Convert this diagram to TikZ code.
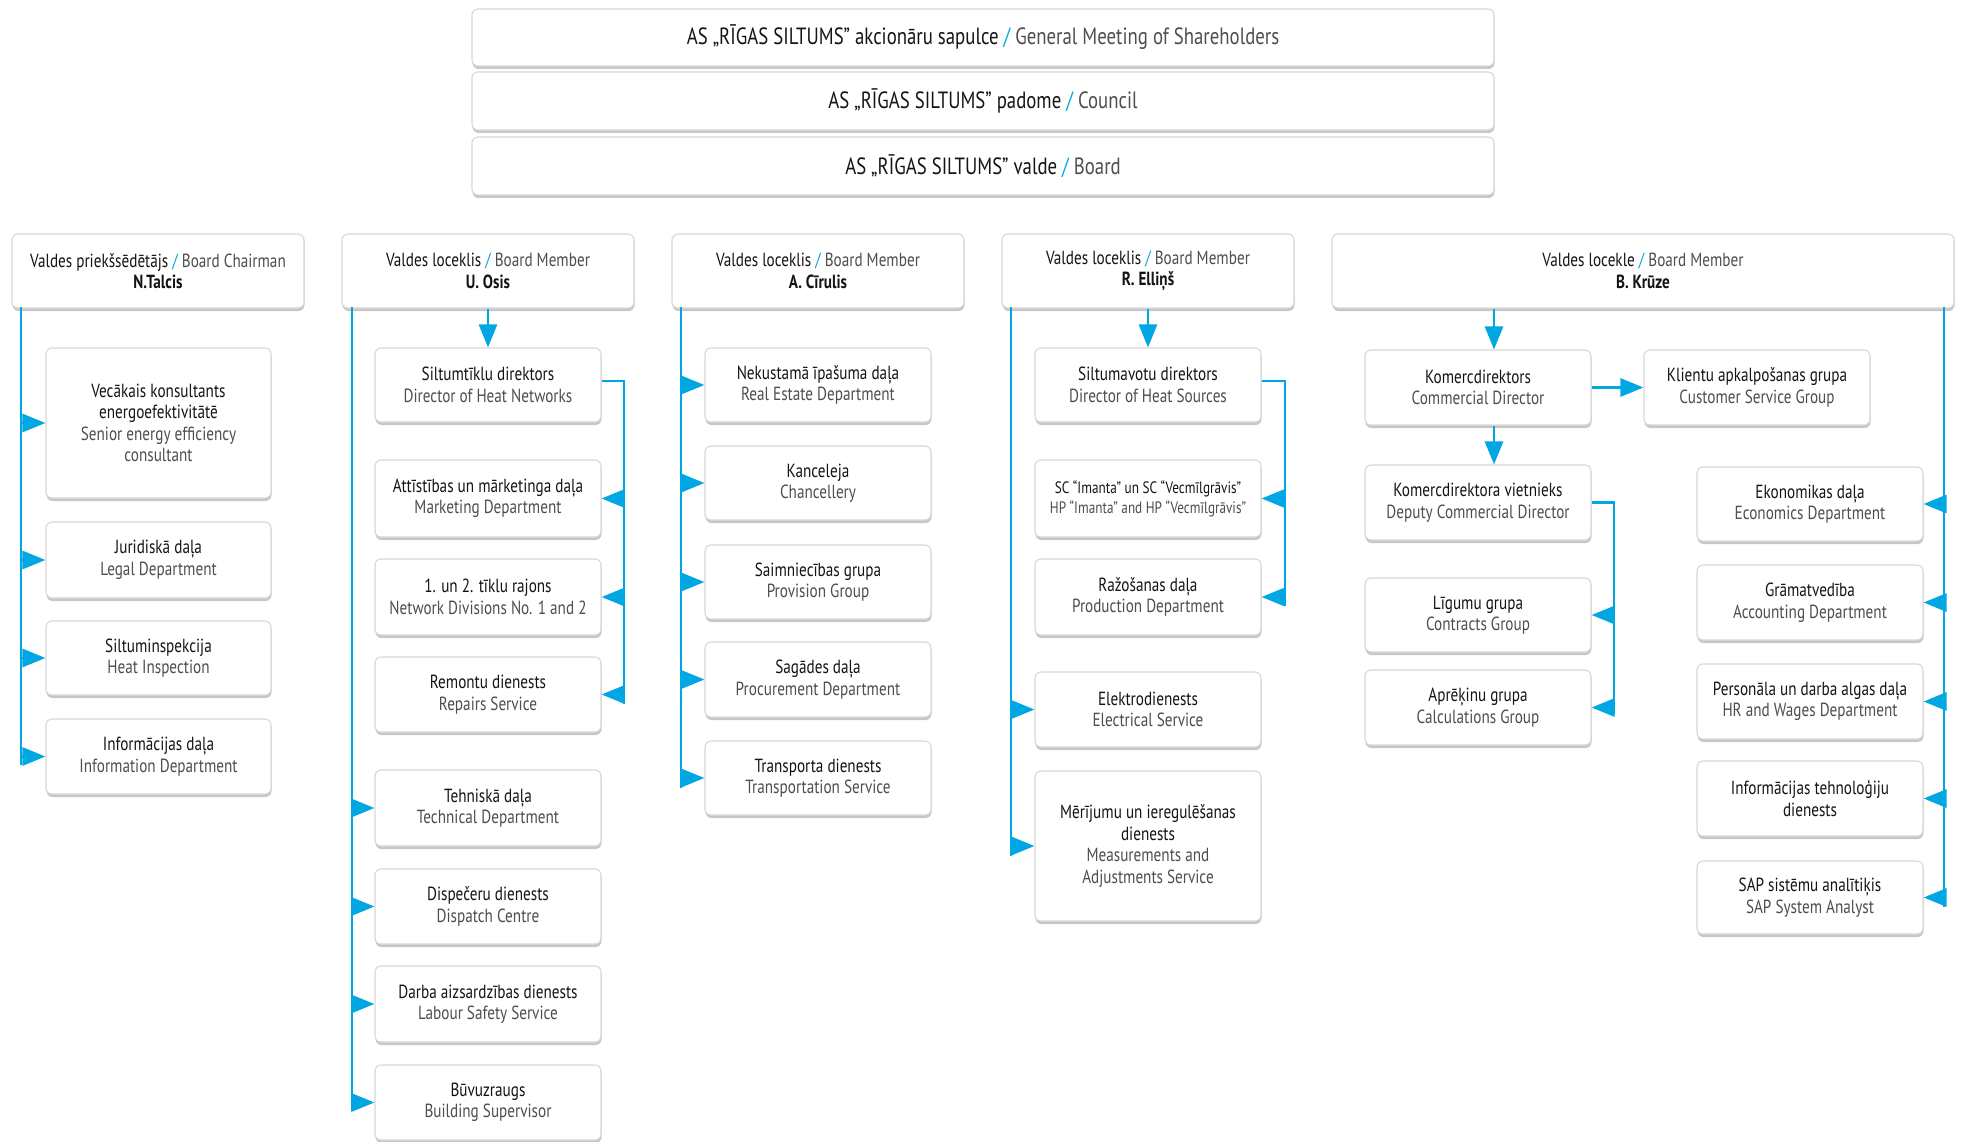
\documentclass[tikz,border=0pt]{standalone}
\usepackage{fontspec}
\setmainfont[FakeStretch=0.8]{PT Sans}
\usetikzlibrary{arrows.meta,shadows}
\definecolor{cy}{RGB}{0,167,226}
\definecolor{lvc}{RGB}{20,20,20}
\definecolor{enc}{RGB}{78,78,78}
\definecolor{bord}{RGB}{216,216,216}
\newcommand{\slsh}{\textcolor{cy}{/}}
\newcommand{\en}[1]{\textcolor{enc}{#1}}
\tikzset{
  box/.style={draw=bord, line width=1.1pt, fill=white, rounded corners=6pt,
    align=center, inner sep=0pt, text=lvc, font=\fontsize{19}{21.5}\selectfont,
    drop shadow={shadow xshift=0.5pt, shadow yshift=-3pt, opacity=0.22, fill=black}},
  topbox/.style={box, font=\fontsize{23.5}{27}\selectfont},
  smallbox/.style={box, font=\fontsize{16.5}{20}\selectfont},
  link/.style={draw=cy, line width=2.8pt},
  arr/.style={link, -{Triangle[length=23pt,width=18pt]}},
}
\newcommand{\nbx}[7][box]{\node[#1, minimum width={(#5-#3)*1pt}, minimum height={(#6-#4)*1pt}] (#2) at ({(#3+#5)/2},{(#4+#6)/2}) {#7};}
\begin{document}
\begin{tikzpicture}[x=1pt,y=-1pt]
\useasboundingbox[fill=white] (0,0) rectangle (1961,1142);
% top
\nbx[topbox]{t1}{472}{9}{1494}{66}{AS „RĪGAS SILTUMS” akcionāru sapulce \slsh{} \en{General Meeting of Shareholders}}
\nbx[topbox]{t2}{472}{72}{1494}{130}{AS „RĪGAS SILTUMS” padome \slsh{} \en{Council}}
\nbx[topbox]{t3}{472}{137}{1494}{195}{AS „RĪGAS SILTUMS” valde \slsh{} \en{Board}}
% headers
\nbx{h1}{12}{234}{304}{308}{Valdes priekšsēdētājs \slsh{} \en{Board Chairman}\\\textbf{N.Talcis}}
\nbx{h2}{342}{234}{634}{308}{Valdes loceklis \slsh{} \en{Board Member}\\\textbf{U. Osis}}
\nbx{h3}{672}{234}{964}{308}{Valdes loceklis \slsh{} \en{Board Member}\\\textbf{A. Cīrulis}}
\nbx{h4}{1002}{234}{1294}{308}{Valdes loceklis \slsh{} \en{Board Member}\\\textbf{R. Elliņš}}
\nbx{h5}{1332}{234}{1954}{308}{Valdes locekle \slsh{} \en{Board Member}\\\textbf{B. Krūze}}
% chairman column
\nbx{vk}{46}{348}{271}{498}{Vecākais konsultants\\energoefektivitātē\\\en{Senior energy efficiency}\\\en{consultant}}
\nbx{jd}{46}{522}{271}{598}{Juridiskā daļa\\\en{Legal Department}}
\nbx{si}{46}{621}{271}{695}{Siltuminspekcija\\\en{Heat Inspection}}
\nbx{id}{46}{719}{271}{794}{Informācijas daļa\\\en{Information Department}}
\coordinate (s1t) at (21,307); \coordinate (s1b) at (21,765);
\draw[link] (s1t) -- (s1b);
\foreach \n in {vk,jd,si,id} \draw[arr] (\n.west -| s1t) -- (\n.west);
% Osis column
\nbx{sd}{375}{348}{601}{422}{Siltumtīklu direktors\\\en{Director of Heat Networks}}
\nbx{ad}{375}{460}{601}{537}{Attīstības un mārketinga daļa\\\en{Marketing Department}}
\nbx{nd}{375}{559}{601}{635}{1. un 2. tīklu rajons\\\en{Network Divisions No. 1 and 2}}
\nbx{rs}{375}{657}{601}{732}{Remontu dienests\\\en{Repairs Service}}
\nbx{td}{375}{770}{601}{846}{Tehniskā daļa\\\en{Technical Department}}
\nbx{dd}{375}{869}{601}{944}{Dispečeru dienests\\\en{Dispatch Centre}}
\nbx{ds}{375}{966}{601}{1042}{Darba aizsardzības dienests\\\en{Labour Safety Service}}
\nbx{bs}{375}{1065}{601}{1140}{Būvuzraugs\\\en{Building Supervisor}}
\draw[arr] (h2.south) -- (sd.north);
\coordinate (s2t) at (352,307); \coordinate (s2b) at (352,1111);
\draw[link] (s2t) -- (s2b);
\foreach \n in {td,dd,ds,bs} \draw[arr] (\n.west -| s2t) -- (\n.west);
\coordinate (b2b) at (624,704);
\draw[link] ([yshift=4pt]sd.east) -| (b2b);
\foreach \n in {ad,nd,rs} \draw[arr] (\n.east -| b2b) -- (\n.east);
% Cirulis column
\nbx{ne}{705}{348}{931}{422}{Nekustamā īpašuma daļa\\\en{Real Estate Department}}
\nbx{ka}{705}{446}{931}{520}{Kanceleja\\\en{Chancellery}}
\nbx{sg}{705}{545}{931}{619}{Saimniecības grupa\\\en{Provision Group}}
\nbx{sa}{705}{642}{931}{717}{Sagādes daļa\\\en{Procurement Department}}
\nbx{tr}{705}{741}{931}{815}{Transporta dienests\\\en{Transportation Service}}
\coordinate (s3t) at (681,307); \coordinate (s3b) at (681,788);
\draw[link] (s3t) -- (s3b);
\foreach \n in {ne,ka,sg,sa,tr} \draw[arr] (\n.west -| s3t) -- (\n.west);
% Ellins column
\nbx{sv}{1035}{348}{1261}{422}{Siltumavotu direktors\\\en{Director of Heat Sources}}
\nbx[smallbox]{sc}{1035}{460}{1261}{537}{SC “Imanta” un SC “Vecmīlgrāvis”\\\en{HP “Imanta” and HP “Vecmīlgrāvis”}}
\nbx{rd}{1035}{559}{1261}{635}{Ražošanas daļa\\\en{Production Department}}
\nbx{ed}{1035}{672}{1261}{747}{Elektrodienests\\\en{Electrical Service}}
\nbx{mi}{1035}{771}{1261}{921}{Mērījumu un ieregulēšanas\\dienests\\\en{Measurements and}\\\en{Adjustments Service}}
\draw[arr] (h4.south) -- (sv.north);
\coordinate (s4t) at (1011,307); \coordinate (s4b) at (1011,856);
\draw[link] (s4t) -- (s4b);
\foreach \n in {ed,mi} \draw[arr] (\n.west -| s4t) -- (\n.west);
\coordinate (b4b) at (1285,606);
\draw[link] ([yshift=4pt]sv.east) -| (b4b);
\foreach \n in {sc,rd} \draw[arr] (\n.east -| b4b) -- (\n.east);
% Kruze column
\nbx{kd}{1365}{350}{1591}{425}{Komercdirektors\\\en{Commercial Director}}
\nbx{ks}{1644}{350}{1870}{425}{Klientu apkalpošanas grupa\\\en{Customer Service Group}}
\nbx{vd}{1365}{465}{1591}{540}{Komercdirektora vietnieks\\\en{Deputy Commercial Director}}
\nbx{lg}{1365}{578}{1591}{652}{Līgumu grupa\\\en{Contracts Group}}
\nbx{ap}{1365}{670}{1591}{745}{Aprēķinu grupa\\\en{Calculations Group}}
\nbx{ek}{1697}{467}{1923}{541}{Ekonomikas daļa\\\en{Economics Department}}
\nbx{gr}{1697}{565}{1923}{640}{Grāmatvedība\\\en{Accounting Department}}
\nbx{pe}{1697}{664}{1923}{739}{Personāla un darba algas daļa\\\en{HR and Wages Department}}
\nbx{it}{1697}{761}{1923}{836}{Informācijas tehnoloģiju\\dienests}
\nbx{sap}{1697}{861}{1923}{934}{SAP sistēmu analītiķis\\\en{SAP System Analyst}}
\coordinate (kx) at (1494,0);
\draw[arr] (h5.south -| kx) -- (kd.north -| kx);
\draw[arr] (kd.south -| kx) -- (vd.north -| kx);
\draw[arr] (kd.east) -- (ks.west);
\coordinate (b5b) at (1614,714);
\draw[link] (vd.east) -| (b5b);
\foreach \n in {lg,ap} \draw[arr] (\n.east -| b5b) -- (\n.east);
\coordinate (s5t) at (1944,307); \coordinate (s5b) at (1944,907);
\draw[link] (s5t) -- (s5b);
\foreach \n in {ek,gr,pe,it,sap} \draw[arr] (\n.east -| s5t) -- (\n.east);
\end{tikzpicture}
\end{document}
